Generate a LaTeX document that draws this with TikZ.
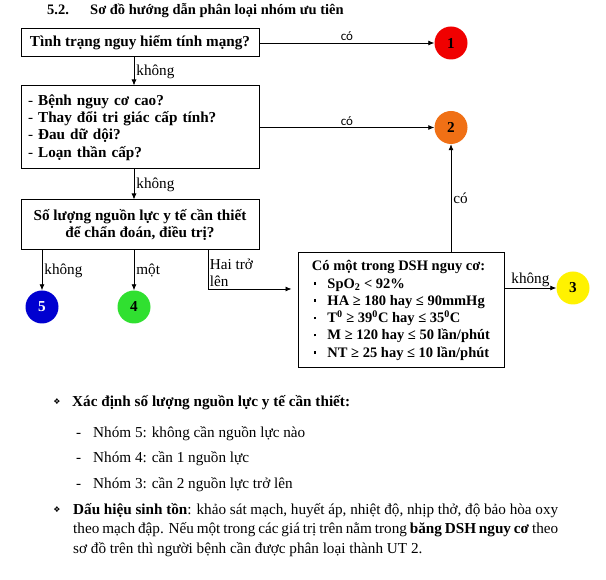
\documentclass[tikz,border=0pt]{standalone}
\usepackage{fontspec}
\setmainfont{Liberation Serif}
\newfontfamily\lblfont{Carlito}
\newfontfamily\symfont{DejaVu Sans}
\usetikzlibrary{arrows.meta}

\definecolor{grpred}{HTML}{F00000}
\definecolor{grporange}{HTML}{F07015}
\definecolor{grpyellow}{HTML}{FFF200}
\definecolor{grpgreen}{HTML}{30E030}
\definecolor{grpblue}{HTML}{0000D0}

\newcommand\dshbul{\hspace*{2pt}\rule[3.5pt]{2.5pt}{2.5pt}\hspace{11pt}}

\tikzset{
  qbox/.style={rectangle, draw=black, line width=1pt, minimum width=238pt, font=\bfseries},
  grp/.style={circle, minimum size=33pt, inner sep=0pt, font=\bfseries},
  arr/.style={-{Latex[length=6pt,width=5pt]}, line width=0.8pt},
  lbl/.style={inner sep=2pt},
  colbl/.style={inner sep=2pt, font=\lblfont\fontsize{13}{15}\selectfont},
  txt/.style={anchor=base west, inner sep=0pt},
  star/.style={inner sep=0pt, font=\symfont\fontsize{8}{8}\selectfont}
}

\begin{document}
\begin{tikzpicture}[x=1pt, y=1pt]
\fontsize{15.2}{17.3}\selectfont
\useasboundingbox (0,0) rectangle (606,580);

% Tiêu đề
\node (hdnum) [txt, font=\bfseries\fontsize{14.5}{17}\selectfont] at (47,565) {5.2.};
\node (hdtitle) [txt, font=\bfseries\fontsize{14.5}{17}\selectfont] at (90,565) {Sơ đồ hướng dẫn phân loại nhóm ưu tiên};

% Các câu hỏi
\node (q1) [qbox, minimum height=28pt] at (140,537) {Tình trạng nguy hiểm tính mạng?};
\node (q2) [qbox, minimum height=83pt, text width=224pt, align=left, node distance=84.5pt, below of=q1] {\textmd{-} Bệnh nguy cơ cao?\\ \textmd{-} Thay đổi tri giác cấp tính?\\ \textmd{-} Đau dữ dội?\\ \textmd{-} Loạn thần cấp?};
\node (q3) [qbox, minimum height=50pt, align=center, node distance=97.5pt, below of=q2] {Số lượng nguồn lực y tế cần thiết\\để chẩn đoán, điều trị?};
\node (q4) [qbox, minimum width=206pt, minimum height=115pt, align=left, font=\bfseries\fontsize{14.5}{17.3}\selectfont] at (401,269.5) {Có một trong DSH nguy cơ:\\
\dshbul SpO\textsubscript{2} < 92\%\\
\dshbul HA ≥ 180 hay ≤ 90mmHg\\
\dshbul T\textsuperscript{0} ≥ 39\textsuperscript{0}C hay ≤ 35\textsuperscript{0}C\\
\dshbul M ≥ 120 hay ≤ 50 lần/phút\\
\dshbul NT ≥ 25 hay ≤ 10 lần/phút};

% Các nhóm ưu tiên
\node (c1) [grp, fill=grpred, node distance=311pt, right of=q1] {1};
\node (c2) [grp, fill=grporange, node distance=311pt, right of=q2] {2};
\node (c3) [grp, fill=grpyellow, node distance=172pt, right of=q4, yshift=22.5pt] {3};
\node (c4) [grp, fill=grpgreen, node distance=82pt, below of=q3, xshift=-6pt] {4};
\node (c5) [grp, fill=grpblue, text=white, node distance=82pt, below of=q3, xshift=-98pt] {5};

% Mũi tên
\draw[arr] (q1) -- node[above, colbl] {có} (c1);
\draw[arr] (q1.south -| c4) -- node[right, lbl] {không} (q2.north -| c4);
\draw[arr] (q2) -- node[above, colbl] {có} (c2);
\draw[arr] (q2.south -| c4) -- node[right, lbl] {không} (q3.north -| c4);
\draw[arr] (q3.south -| c5) -- node[right, lbl] {không} (c5);
\draw[arr] (q3.south -| c4) -- node[right, lbl] {một} (c4);
\coordinate (bend) at (208,291);
\draw[arr, shorten >=6pt] (q3.south -| bend) -- (bend) node[above right, align=left, inner sep=1.5pt] {Hai trở\\lên} -- (q4.west |- bend);
\draw[arr] (q4.north -| c2) -- node[right, lbl] {có} (c2);
\draw[arr] (q4.east |- c3) -- node[above, inner sep=0.5pt] {không} (c3);

% Ghi chú
\node (st1) [star] at (57,178) {❖};
\node (s1) [txt] at (72,173) {\textbf{Xác định số lượng nguồn lực y tế cần thiết:}};
\foreach \g/\t/\y in {5/không cần nguồn lực nào/142, 4/cần 1 nguồn lực/117, 3/cần 2 nguồn lực trở lên/91} {
  \node (d\g) [txt] at (76,\y) {-};
  \node (n\g) [txt] at (93,\y) {Nhóm \g: \t};
}
\node (st2) [star] at (57,70) {❖};
\node (p1) [txt] at (73,65) {\makebox[485pt][s]{\textbf{Dấu hiệu sinh tồn}: khảo sát mạch, huyết áp, nhiệt độ, nhịp thở, độ bảo hòa oxy}};
\node (p2) [txt] at (73,46) {\makebox[485pt][s]{theo mạch đập. Nếu một trong các giá trị trên nằm trong \textbf{băng DSH nguy cơ} theo}};
\node (p3) [txt] at (73,26) {sơ đồ trên thì người bệnh cần được phân loại thành UT 2.};

\end{tikzpicture}
\end{document}
